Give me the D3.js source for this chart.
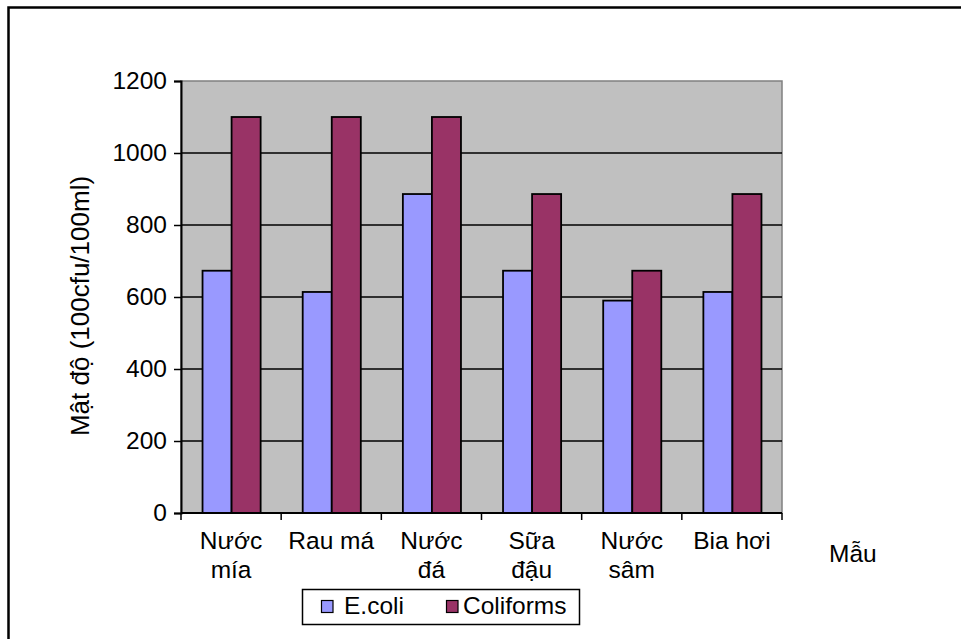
<!DOCTYPE html>
<html>
<head>
<meta charset="utf-8">
<script src="https://cdn.jsdelivr.net/npm/d3@7"></script>
<style>
  html, body { margin: 0; padding: 0; background: #fff; }
  svg { display: block; font-family: "Liberation Sans", Arial, sans-serif; }
</style>
</head>
<body>
<svg id="chart" width="961" height="639"></svg>
<script>
// Sample categories (two-line labels split on "\n")
const categories = ["Nước\nmía", "Rau má", "Nước\nđá", "Sữa\nđậu", "Nước\nsâm", "Bia hơi"];
const seriesNames = ["E.coli", "Coliforms"];
const ecoli = [673, 614, 886, 673, 590, 614];
const coliforms = [1100, 1100, 1100, 886, 673, 886];
const yTicks = [0, 200, 400, 600, 800, 1000, 1200];
const colors = ["#9999ff", "#993366"];

const svg = d3.select("#chart");
const W = 961, H = 639;
const plot = { left: 181, right: 782, top: 81, bottom: 513 };
const fontSize = 24.5;

// Outer chart frame (left and top edges are visible)
svg.append("path")
  .attr("d", `M8.5,${H + 10} L8.5,7.5 L${W + 10},7.5`)
  .attr("fill", "none").attr("stroke", "#000").attr("stroke-width", 2.5);

const x = d3.scaleBand().domain(categories).range([plot.left, plot.right]).padding(0);
const xs = d3.scaleBand().domain(seriesNames)
  .range([x.bandwidth() * 0.215, x.bandwidth() * 0.795]).padding(0);
const y = d3.scaleLinear().domain([0, 1200]).range([plot.bottom, plot.top]);

// Plot area background with grey border
svg.append("rect")
  .attr("x", plot.left).attr("y", plot.top)
  .attr("width", plot.right - plot.left).attr("height", plot.bottom - plot.top)
  .attr("fill", "#c0c0c0").attr("stroke", "#808080").attr("stroke-width", 1.5);

// Horizontal gridlines
svg.append("g").selectAll("line")
  .data(yTicks.filter(d => d > 0 && d < 1200))
  .join("line")
  .attr("x1", plot.left).attr("x2", plot.right)
  .attr("y1", d => y(d)).attr("y2", d => y(d))
  .attr("stroke", "#000").attr("stroke-width", 1.5);

// Bars
const rows = categories.map((c, i) => ({ cat: c, vals: [ecoli[i], coliforms[i]] }));
const groups = svg.append("g").selectAll("g")
  .data(rows).join("g")
  .attr("transform", d => `translate(${x(d.cat)},0)`);
groups.selectAll("rect")
  .data(d => d.vals.map((v, j) => ({ name: seriesNames[j], v, j })))
  .join("rect")
  .attr("x", d => xs(d.name))
  .attr("width", xs.bandwidth())
  .attr("y", d => y(d.v))
  .attr("height", d => y(0) - y(d.v))
  .attr("fill", d => colors[d.j])
  .attr("stroke", "#000").attr("stroke-width", 1.8);

// Y axis
const yAxis = d3.axisLeft(y).tickValues(yTicks).tickFormat(d3.format("d"))
  .tickSize(7).tickPadding(7);
const gy = svg.append("g").attr("transform", `translate(${plot.left},0)`).call(yAxis);
gy.select(".domain").attr("stroke", "#000").attr("stroke-width", 2);
gy.selectAll(".tick line").attr("stroke", "#000").attr("stroke-width", 1.5);
gy.selectAll(".tick text").attr("font-size", fontSize).attr("fill", "#000")
  .attr("font-family", "Liberation Sans, Arial, sans-serif");

// X axis: ticks at category boundaries
const gx = svg.append("g").attr("transform", `translate(0,${plot.bottom})`);
gx.append("line").attr("x1", plot.left).attr("x2", plot.right)
  .attr("stroke", "#000").attr("stroke-width", 2);
const bounds = categories.map(c => x(c)).concat([plot.right]);
gx.selectAll("line.tk").data(bounds).join("line").attr("class", "tk")
  .attr("x1", d => d).attr("x2", d => d).attr("y1", 0).attr("y2", 7)
  .attr("stroke", "#000").attr("stroke-width", 1.5);

// Category labels
const lab = svg.append("g").selectAll("text")
  .data(categories).join("text")
  .attr("x", d => x(d) + x.bandwidth() / 2)
  .attr("y", 549)
  .attr("text-anchor", "middle")
  .attr("font-size", fontSize).attr("fill", "#000");
lab.each(function (d) {
  const t = d3.select(this);
  d.split("\n").forEach((line, i) => {
    t.append("tspan").attr("x", x(d) + x.bandwidth() / 2)
      .attr("dy", i === 0 ? 0 : 29).text(line);
  });
});

// Axis titles
svg.append("text")
  .attr("transform", `translate(89,${(plot.top + plot.bottom) / 2 + 9}) rotate(-90)`)
  .attr("text-anchor", "middle").attr("font-size", 26).attr("fill", "#000")
  .text("Mật độ (100cfu/100ml)");
svg.append("text")
  .attr("x", 829).attr("y", 562)
  .attr("font-size", fontSize).attr("fill", "#000")
  .text("Mẫu");

// Legend
const leg = svg.append("g");
leg.append("rect").attr("x", 302.5).attr("y", 589.5).attr("width", 277).attr("height", 35)
  .attr("fill", "#fff").attr("stroke", "#000").attr("stroke-width", 1.5);
const legSwatchX = [321, 446];
const legTextX = [344, 463];
seriesNames.forEach((name, j) => {
  leg.append("rect").attr("x", legSwatchX[j] + 0.5).attr("y", 600.5).attr("width", 11.5).attr("height", 12)
    .attr("fill", colors[j]).attr("stroke", "#000").attr("stroke-width", 1.2);
  leg.append("text").attr("x", legTextX[j]).attr("y", 614)
    .attr("font-size", fontSize).attr("fill", "#000").text(name);
});
</script>
</body>
</html>
